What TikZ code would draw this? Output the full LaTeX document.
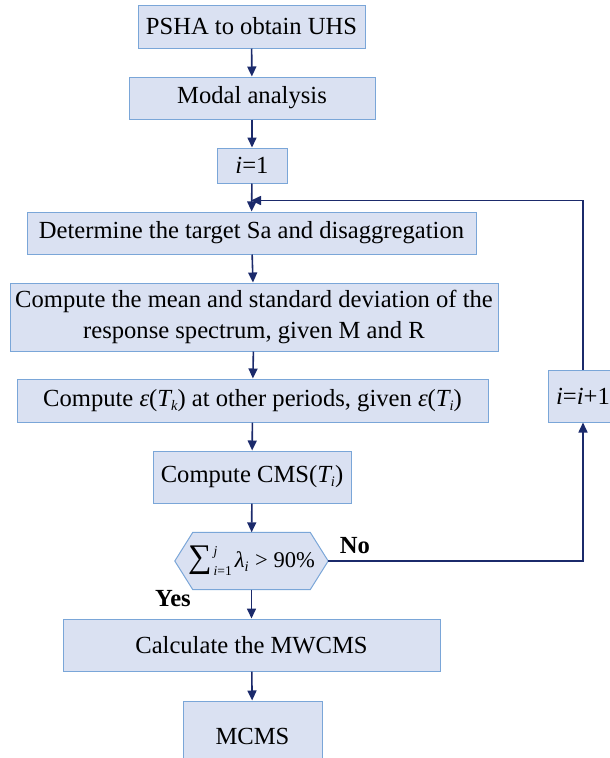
\documentclass[tikz,border=0pt]{standalone}
\usepackage{fontspec}
\setmainfont{Liberation Serif}
\usetikzlibrary{arrows.meta,backgrounds}

\definecolor{boxfill}{HTML}{DAE1F2}
\definecolor{boxedge}{HTML}{7AA6D8}
\definecolor{flow}{HTML}{1B2A6B}

\newcommand{\scr}[1]{{\fontsize{14.5}{14.5}\selectfont #1}}
\newcommand{\tinyscr}[1]{{\fontsize{13.5}{13.5}\selectfont #1}}
\newcommand{\lowsub}[1]{\raisebox{-4pt}{\scr{\itshape #1}}}

\begin{document}
\begin{tikzpicture}[x=1pt,y=-1pt,
  every node/.style={font=\fontsize{24.6}{31}\selectfont, inner sep=0pt, align=center},
  box/.style={draw=boxedge, fill=boxfill, line width=1pt, rectangle},
  hexframe/.style={draw=boxedge, fill=boxfill, line width=1pt, line join=miter},
  flowline/.style={draw=flow, line width=1.6pt},
  arr/.style={flowline, -{Triangle[length=10pt,width=9pt]}},
  lbl/.style={font=\fontsize{24.6}{30}\selectfont\bfseries}]
\useasboundingbox (0,0) rectangle (610,758);

% main column of steps
\node[box, minimum width=227, minimum height=43] (psha) at (251.5,26.5) {PSHA to obtain UHS};
\node[box, minimum width=246, minimum height=42] (modal) at (252,98) {Modal analysis};
\node[box, minimum width=70, minimum height=35] (init) at (252,165.5) {{\itshape i}=1};
\node[box, minimum width=449, minimum height=42] (target) at (251.5,233) {Determine the target Sa and disaggregation};
\node[box, minimum width=488, minimum height=68] (mean) at (254,317)
  {Compute the mean and standard deviation of the\\response spectrum, given M and R};
\node[box, minimum width=471, minimum height=43] (eps) at (252.5,400.5)
  {Compute {\itshape ε}({\itshape T}\lowsub{k}) at other periods, given {\itshape ε}({\itshape T}\lowsub{i})};
\node[box, minimum width=198, minimum height=52] (cms) at (252,477) {Compute CMS({\itshape T}\lowsub{i})};

% decision: hexagonal frame drawn behind the named node
\node[minimum width=153, minimum height=57, font=\fontsize{22.5}{28}\selectfont] (check) at (251.5,561)
  {{\fontsize{33}{33}\selectfont ∑}\kern2pt\rlap{\raisebox{12pt}{\tinyscr{\itshape j}}}\raisebox{-8pt}{\tinyscr{{\itshape i}=1}}\kern3pt{\itshape λ}\lowsub{i} \kern1pt{>} 90\%};
\begin{scope}[on background layer]
  \path[hexframe] (check.west) -- ([xshift=18pt]check.north west) -- ([xshift=-18pt]check.north east)
    -- (check.east) -- ([xshift=-18pt]check.south east) -- ([xshift=18pt]check.south west) -- cycle;
\end{scope}

\node[box, minimum width=377, minimum height=52] (mwcms) at (251.5,645) {Calculate the MWCMS};
\node[box, minimum width=139, minimum height=70] (mcms) at (252.5,736) {MCMS};

% loop counter
\node[box, minimum width=70, minimum height=52] (incr) at (583,396) {{\itshape i}={\itshape i}+1};

% branch labels
\node[lbl] (nolbl) at (355,546) {No};
\node[lbl] (yeslbl) at (173,599) {Yes};

% connectors
\coordinate (merge) at (252,200.5);
\coordinate (rbot) at (583,561);
\coordinate (rtop) at (583,200.5);
\draw[arr] (psha) -- (modal);
\draw[arr] (modal) -- (init);
\draw[arr] (init) -- (target);
\draw[arr] (target) -- (mean);
\draw[arr] (mean) -- (eps);
\draw[arr] (eps) -- (cms);
\draw[arr] (cms) -- (check);
\draw[arr] (check) -- (mwcms);
\draw[arr] (mwcms) -- (mcms);
\draw[arr] (check.east) -- (rbot) -- (incr.south);
\draw[arr, shorten >=-1pt] (incr.north) -- (rtop) -- (merge);
\end{tikzpicture}
\end{document}
